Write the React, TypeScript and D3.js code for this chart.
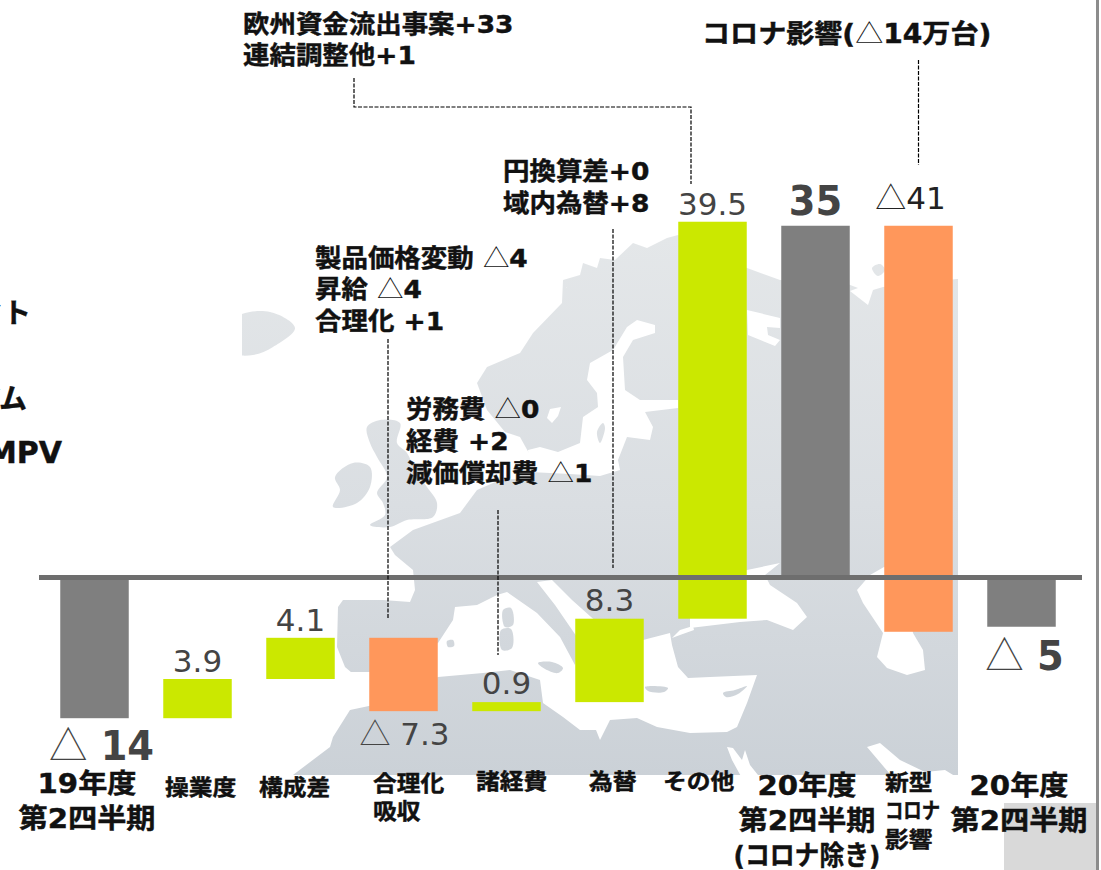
import React from 'react'
import * as d3 from 'd3'

// waterfall, in 万台-ish units
const categories = ['19Q2', 'operation', 'mix', 'cost', 'expense', 'fx', 'other', '20Q2ex', 'covid', '20Q2']
const values = [-14, 3.9, 4.1, -7.3, 0.9, 8.3, 39.5, 35, -40.4, -4.9]
const totals = [true, false, false, false, false, false, false, true, false, true]
const barKinds = ['total', 'up', 'up', 'down', 'up', 'up', 'up', 'total', 'down', 'total']
const valueLabels = ['△ 14', '3.9', '4.1', '△ 7.3', '0.9', '8.3', '39.5', '35', '△41', '△ 5']

const axisLabels = [
  ['19年度', '第2四半期'],
  ['操業度'],
  ['構成差'],
  ['合理化', '吸収'],
  ['諸経費'],
  ['為替'],
  ['その他'],
  ['20年度', '第2四半期', '(コロナ除き)'],
  ['新型', 'コロナ', '影響'],
  ['20年度', '第2四半期'],
]

const noteEurope = ['欧州資金流出事案+33', '連結調整他+1']
const noteCovid = ['コロナ影響(△14万台)']
const noteFx = ['円換算差+0', '域内為替+8']
const noteCost = ['製品価格変動 △4', '昇給 △4', '合理化 +1']
const noteExpense = ['労務費 △0', '経費 +2', '減価償却費 △1']

const colors: Record<string, string> = { total: '#7f7f7f', up: '#cbe800', down: '#ff975b' }

// background map, traced by hand (page coordinates, decoration only)
const land: [number, number][][] = [
  [[563, 280], [567, 288], [563, 280], [580, 275], [583, 263], [597, 268], [600, 258], [615, 260], [633, 243], [647, 248], [667, 238], [678, 235], [710, 250], [747, 268], [780, 280], [845, 283], [858, 288], [850, 291], [868, 305], [873, 290], [883, 287], [957, 279], [970, 279], [970, 790], [285, 790], [293, 775], [330, 747], [333, 737], [350, 710], [372, 690], [345, 667], [337, 647], [338, 607], [343, 600], [383, 600], [410, 602], [415, 590], [413, 570], [395, 555], [390, 547], [413, 530], [460, 513], [477, 490], [500, 480], [530, 478], [530, 455], [520, 437], [505, 432], [487, 410], [477, 383], [487, 367], [520, 353], [533, 333], [562, 303]],
]
const islands: [number, number][][] = [
  [[236, 318], [270, 312], [295, 328], [273, 347], [253, 355], [236, 353]],
  [[367, 427], [380, 420], [400, 423], [397, 443], [407, 453], [415, 470], [427, 487], [437, 503], [433, 517], [407, 520], [390, 527], [370, 525], [385, 515], [383, 503], [377, 493], [387, 477], [377, 457], [370, 443]],
  [[335, 477], [353, 463], [370, 467], [370, 487], [357, 503], [333, 507], [340, 490]],
  [[503, 610], [511, 608], [513, 625], [505, 627]],
  [[501, 630], [511, 629], [512, 648], [502, 650]],
  [[447, 641], [453, 640], [454, 646], [448, 647]],
  [[538, 663], [552, 662], [563, 668], [558, 673], [545, 669]],
  [[645, 687], [668, 688], [664, 692], [648, 691]],
  [[723, 693], [735, 690], [747, 686], [738, 694], [726, 697]],
  [[597, 432], [603, 423], [605, 428], [600, 443]],
  [[872, 268], [880, 264], [885, 270], [878, 276]],
]
const seas: [number, number][][] = [
  // mediterranean + adriatic
  [[345, 672], [370, 672], [400, 660], [438, 643], [453, 620], [455, 607], [477, 605], [497, 595], [507, 592], [537, 613], [560, 637], [575, 665], [579, 640], [555, 605], [537, 582], [552, 580], [572, 600], [600, 625], [643, 640], [670, 633], [672, 645], [678, 667], [688, 678], [710, 677], [757, 675], [747, 703], [737, 727], [727, 732], [690, 733], [657, 727], [637, 718], [610, 720], [600, 740], [596, 730], [580, 730], [563, 717], [543, 703], [540, 680], [510, 670], [483, 673], [438, 677], [383, 703], [350, 710]],
  // black sea, marmara
  [[690, 628], [740, 622], [767, 620], [793, 630], [807, 617], [797, 603], [770, 585], [765, 575], [780, 563], [747, 570], [700, 580], [690, 600]],
  [[672, 638], [680, 630], [693, 626], [694, 630], [680, 635]],
  // caspian
  [[870, 575], [884, 567], [900, 570], [913, 633], [923, 650], [925, 670], [907, 675], [887, 668], [877, 657], [883, 633], [863, 603], [857, 590]],
  // red sea, gulf
  [[727, 747], [733, 748], [742, 760], [745, 750], [750, 765], [762, 780], [743, 780], [732, 760]],
  [[867, 747], [880, 743], [900, 760], [925, 772], [945, 770], [958, 778], [895, 780]],
  // white sea
  [[747, 310], [780, 318], [780, 328], [767, 327], [768, 335], [780, 340], [775, 346], [748, 335]],
  // baltic with bothnia and gulf of finland
  [[627, 327], [637, 320], [655, 325], [655, 333], [633, 340], [623, 357], [625, 390], [640, 400], [678, 400], [678, 408], [645, 412], [653, 427], [650, 440], [627, 437], [618, 460], [620, 470], [600, 476], [570, 474], [530, 472], [528, 450], [540, 447], [558, 452], [580, 443], [583, 417], [598, 407], [597, 393], [587, 380], [590, 363], [613, 350]],
  // vanern
  [[547, 418], [550, 409], [561, 407], [558, 416], [552, 423]],
]

const BOLD = '"DejaVu Sans","Noto Sans CJK JP",sans-serif'
const THIN = '"Noto Sans CJK JP",sans-serif'

// lines that ran narrower in the slide than the fallback font sets them
const squeezed: Record<string, number> = { 'コロナ': 51, '(コロナ除き)': 136 }

// a text block; the triangle is set thin like in the slide
const Label = ({ x, y, lines, size = 24.5, step = 31.5, anchor = 'start', fill = '#111', family = BOLD, weight = 700, sx = 1.08, heavy = 0.45 }: any) => (
  <g transform={`translate(${x},${y}) scale(${sx},1)`}>
    {lines.map((line: string, i: number) => (
      <text
        key={i}
        y={i * step}
        fontSize={size}
        fontFamily={family}
        fontWeight={weight}
        textAnchor={anchor}
        fill={fill}
        textLength={squeezed[line]}
        lengthAdjust={squeezed[line] ? 'spacingAndGlyphs' : undefined}
      >
        {line.split(/(△)/).map((part, j) => (part === '△'
          ? <tspan key={j} fontFamily={THIN} fontWeight={300}>△</tspan>
          : <tspan key={j} stroke={fill} strokeWidth={heavy}>{part}</tspan>))}
      </text>
    ))}
  </g>
)

const App = () => {
  const x = d3.scaleBand<string>().domain(categories).range([43, 1073]).paddingInner(0.335).paddingOuter(0.1675)
  const y = d3.scaleLinear().domain([-20, 40]).range([778.5, 175.5])

  const bars: { key: string, start: number, end: number, kind: string }[] = []
  let run = 0
  categories.forEach((key, i) => {
    const start = totals[i] ? 0 : run
    const end = start + values[i]
    bars.push({ key, start, end, kind: barKinds[i] })
    run = end
  })

  const landLine = d3.line().curve(d3.curveLinearClosed)
  const smooth = d3.line().curve(d3.curveCatmullRomClosed.alpha(0.5))
  const dashed = d3.line()

  // label offsets from the bar end
  const valueDy = [42, -7, -7, 34, -8, -7.5, -7, -10.5, -17, 43]
  const valueDx = [7, 0, 0, 1, 0, 0, 0, 0, -8, 3]
  const strong = [true, false, false, false, false, false, false, true, false, true]
  const axisX = [87, 165, 259, 373, 476, 589, 663, 807, 885, 1019]
  const axisY = [793, 795, 795, 791, 789, 789, 789, 795, 790, 795]

  return (
    <svg width={1101} height={870} style={{ position: 'absolute', left: 0, top: 0, background: '#fff' }}>
      <defs>
        <linearGradient id="mapFill" gradientUnits="userSpaceOnUse" x1="0" y1="235" x2="0" y2="775">
          <stop offset="0" stopColor="#e4e7e9" />
          <stop offset="0.5" stopColor="#dadee2" />
          <stop offset="1" stopColor="#cbd1d7" />
        </linearGradient>
        <clipPath id="mapClip"><rect x={242} y={225} width={716} height={550} /></clipPath>
      </defs>

      <g clipPath="url(#mapClip)">
        {land.map((p, i) => <path key={i} d={landLine(p) as string} fill="url(#mapFill)" />)}
        {seas.map((p, i) => <path key={i} d={landLine(p) as string} fill="#fff" />)}
        {islands.map((p, i) => <path key={i} d={smooth(p) as string} fill="url(#mapFill)" />)}
      </g>

      <rect x={1004} y={803} width={92} height={67} fill="#d9d9d9" />
      <rect x={1096} y={0} width={3} height={870} fill="#8c8c8c" />

      {bars.map((d) => (
        <rect
          key={d.key}
          x={x(d.key)}
          width={x.bandwidth()}
          y={y(Math.max(d.start, d.end))}
          height={Math.abs(y(d.start) - y(d.end))}
          fill={colors[d.kind]}
        />
      ))}

      <line x1={39} x2={1082} y1={y(0)} y2={y(0)} stroke="#6e6e6e" strokeWidth={5} />

      {[
        [[354, 78], [354, 107], [691, 107], [691, 184]],
        [[918.5, 60], [918.5, 165]],
        [[388, 339], [388, 618]],
        [[498, 510], [498, 655]],
        [[613, 229], [613, 568]],
      ].map((p, i) => (
        <path key={i} d={dashed(p as [number, number][]) as string} fill="none" stroke="#000" strokeWidth={1.2} strokeDasharray="4 1.5" />
      ))}

      {bars.map((d, i) => {
        const edge = valueDy[i] > 0 ? Math.min(d.start, d.end) : Math.max(d.start, d.end)
        return (
          <Label
            key={d.key}
            x={x(d.key)! + x.bandwidth() / 2 + valueDx[i]}
            y={y(edge) + valueDy[i]}
            lines={[valueLabels[i]]}
            anchor="middle"
            size={strong[i] ? 40 : 31}
            sx={strong[i] ? 0.96 : 1}
            family={strong[i] ? BOLD : '"DejaVu Sans",sans-serif'}
            weight={strong[i] ? 700 : 400}
            heavy={0}
            fill={i === 8 ? '#222' : '#444'}
          />
        )
      })}

      <Label x={243} y={33} lines={noteEurope} />
      <Label x={702} y={43} lines={noteCovid} size={26} />
      <Label x={503} y={180} lines={noteFx} step={32} />
      <Label x={315} y={267} lines={noteCost} />
      <Label x={406} y={418} lines={noteExpense} step={32} />

      {/* labels cut off by the slide's left edge */}
      <Label x={31} y={323} lines={['コンパクト']} anchor="end" size={28} sx={1} />
      <Label x={27} y={409} lines={['ミディアム']} anchor="end" size={28} sx={1} />
      <Label x={62} y={463} lines={['MPV']} anchor="end" size={30} sx={1} />

      {axisLabels.map((lines, i) => (
        <Label
          key={i}
          x={axisX[i]}
          y={axisY[i]}
          lines={lines}
          anchor={strong[i] ? 'middle' : 'start'}
          size={strong[i] ? 27 : 22}
          step={strong[i] ? 35 : 28.5}
        />
      ))}
    </svg>
  )
}

export default App
